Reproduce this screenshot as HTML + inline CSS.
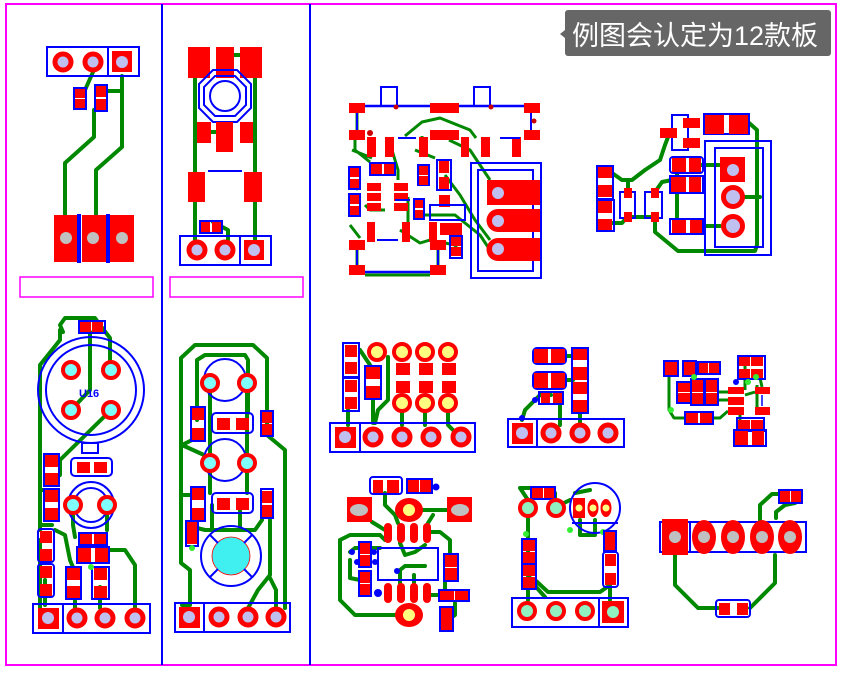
<!DOCTYPE html>
<html><head><meta charset="utf-8"><style>
html,body{margin:0;padding:0;background:#fff;}
svg{display:block}
.r{fill:#f00}
.b{fill:none;stroke:#00f;stroke-width:2}
.g{fill:none;stroke:#080;stroke-width:4;stroke-linejoin:round;stroke-linecap:round}
.g3{fill:none;stroke:#080;stroke-width:3;stroke-linejoin:round}
.ring{fill:#c0c0f0;stroke:#f00;stroke-width:5}
.cy{fill:#80ffff;stroke:#f00;stroke-width:4}
.ye{fill:#ffff80;stroke:#f00;stroke-width:4}
.gr{fill:#90f0c0;stroke:#f00;stroke-width:4}
.lv{fill:#c0c0f0}
.gy{fill:#c0c0c0}
</style></head><body>
<svg width="842" height="673" viewBox="0 0 842 673" xmlns="http://www.w3.org/2000/svg">
<rect x="6" y="4" width="830" height="661" fill="none" stroke="#f0f" stroke-width="2"/>
<line x1="162" y1="4" x2="162" y2="665" stroke="#00f" stroke-width="2"/>
<line x1="310" y1="4" x2="310" y2="665" stroke="#00f" stroke-width="2"/>
<rect x="20" y="277" width="133" height="20" fill="none" stroke="#f0f" stroke-width="1.5"/>
<rect x="170" y="277" width="133" height="20" fill="none" stroke="#f0f" stroke-width="1.5"/>

<!-- label -->
<rect x="565" y="10" width="266" height="46" rx="3" fill="#666"/>
<polygon points="565,30 560,34 565,38" fill="#666"/>
<text x="572" y="45" font-family="Liberation Sans, Noto Sans CJK SC, sans-serif" font-size="27" fill="#fff">例图会认定为12款板</text>

<!-- Board 1 top-left -->
<path class="g" d="M93,72 L85,90 M94,110 L94,137 L65,163 L65,215 M122,76 L122,147 L96,170 L96,215 M106,91 L122,91"/>
<rect class="b" x="47" y="47" width="92" height="29"/><line x1="108" y1="47" x2="108" y2="76" stroke="#00f" stroke-width="2"/>
<circle class="ring" cx="63" cy="62" r="8"/><circle class="ring" cx="93" cy="62" r="8"/>
<rect class="r" x="112" y="51" width="20" height="21"/><circle class="lv" cx="122" cy="62" r="6"/>
<rect class="b" x="74" y="88" width="12" height="21"/><rect class="r" x="75" y="89" width="10" height="9"/><rect class="r" x="75" y="99" width="10" height="9"/>
<rect class="b" x="95" y="85" width="12" height="26"/><rect class="r" x="96" y="86" width="10" height="11"/><rect class="r" x="96" y="99" width="10" height="11"/>
<rect class="r" x="54" y="215" width="25" height="47"/><rect class="r" x="82" y="215" width="24" height="47"/><rect class="r" x="110" y="215" width="24" height="47"/>
<circle class="gy" cx="66" cy="238" r="6"/><circle class="gy" cx="93" cy="238" r="6"/><circle class="gy" cx="122" cy="238" r="6"/>
<line x1="79" y1="214" x2="79" y2="263" stroke="#00f" stroke-width="4"/><line x1="108" y1="214" x2="108" y2="263" stroke="#00f" stroke-width="4"/>

<!-- Board 2 top-mid -->
<path class="g" d="M195,78 L195,240 M255,78 L255,240 M211,132 L216,132 M213,222 L228,230 L228,240 M227,55 L240,55"/>
<rect class="r" x="188" y="47" width="22" height="31"/><rect class="r" x="216" y="47" width="18" height="31"/><rect class="r" x="240" y="47" width="22" height="31"/>
<polygon class="b" points="213,70 237,70 251,84 251,108 237,122 213,122 199,108 199,84"/>
<polygon class="b" points="215,76 235,76 246,87 246,105 235,116 215,116 204,105 204,87"/>
<circle class="b" cx="225" cy="96" r="15"/>
<rect class="r" x="197" y="122" width="14" height="21"/><rect class="r" x="216" y="122" width="17" height="30"/><rect class="r" x="240" y="122" width="13" height="21"/>
<rect class="r" x="188" y="172" width="17" height="30"/><rect class="r" x="244" y="172" width="18" height="30"/>
<line x1="208" y1="171" x2="242" y2="171" stroke="#00f" stroke-width="2"/>
<rect class="b" x="200" y="221" width="22" height="12"/><rect class="r" x="201" y="222" width="9" height="10"/><rect class="r" x="212" y="222" width="9" height="10"/>
<rect class="b" x="180" y="236" width="91" height="29"/><line x1="240" y1="236" x2="240" y2="265" stroke="#00f" stroke-width="2"/>
<circle class="ring" cx="197" cy="250" r="8"/><circle class="ring" cx="225" cy="250" r="8"/>
<rect class="r" x="244" y="240" width="20" height="20"/><circle class="lv" cx="254" cy="250" r="6"/>

<!-- Board 3 big top -->
<path class="g3" d="M357,113 L357,130 M355,140 L355,150 L370,162 M372,158 L352,150 M358,190 L355,185 M392,150 L398,170 L398,180 M405,136 L422,122 L440,118 L470,130 L476,138 M365,275 L430,275 M357,250 L357,265 M438,250 L438,265 M422,136 L422,145 M415,150 L435,158 M449,140 L470,150 L490,180 M445,175 L460,195 L475,220 L490,240 M420,215 L455,215 L480,235 L490,250 M365,205 L370,210 L385,210 M408,197 L408,232 M400,230 L420,243 L430,240 M350,225 L360,238 M430,240 L455,245 L460,255"/>
<rect class="b" x="381" y="87" width="16" height="19"/><rect class="b" x="474" y="87" width="16" height="19"/>
<line x1="363" y1="106" x2="526" y2="106" stroke="#00f" stroke-width="2.5"/>
<line x1="357" y1="113" x2="357" y2="130" stroke="#00f" stroke-width="2"/><line x1="531" y1="113" x2="531" y2="130" stroke="#00f" stroke-width="2"/>
<rect class="r" x="349" y="103" width="16" height="10"/><rect class="r" x="430" y="103" width="29" height="10"/><rect class="r" x="524" y="103" width="16" height="10"/>
<rect class="r" x="349" y="130" width="16" height="10"/><rect class="r" x="430" y="130" width="29" height="10"/><rect class="r" x="524" y="130" width="16" height="10"/>
<circle cx="396" cy="107" r="2.5" fill="#c00"/><circle cx="491" cy="107" r="2.5" fill="#c00"/><circle cx="534" cy="121" r="2.5" fill="#c00"/><circle cx="370" cy="133" r="3" fill="#c00"/>
<rect class="r" x="367" y="137" width="9" height="20"/><rect class="r" x="385" y="137" width="9" height="20"/><rect class="r" x="419" y="137" width="9" height="20"/><rect class="r" x="461" y="137" width="8" height="20"/><rect class="r" x="481" y="137" width="9" height="20"/><rect class="r" x="512" y="137" width="9" height="20"/>
<path d="M398,138 L416,138 M400,138 L410,138 M500,138 L520,138" stroke="#00f" stroke-width="2"/>
<rect class="b" x="349" y="167" width="11" height="22"/><rect class="r" x="350" y="168" width="9" height="9"/><rect class="r" x="350" y="179" width="9" height="9"/>
<rect class="b" x="349" y="194" width="11" height="22"/><rect class="r" x="350" y="195" width="9" height="9"/><rect class="r" x="350" y="206" width="9" height="9"/>
<rect class="b" x="370" y="163" width="25" height="12"/><rect class="r" x="371" y="164" width="11" height="10"/><rect class="r" x="384" y="164" width="10" height="10"/>
<rect class="r" x="367" y="183" width="14" height="8"/><rect class="r" x="367" y="193" width="14" height="8"/><rect class="r" x="367" y="203" width="14" height="8"/>
<rect class="r" x="394" y="183" width="14" height="8"/><rect class="r" x="394" y="193" width="14" height="8"/><rect class="r" x="394" y="203" width="14" height="8"/>
<rect class="b" x="418" y="165" width="11" height="20"/><rect class="r" x="419" y="166" width="9" height="9"/><rect class="r" x="419" y="176" width="9" height="9"/>
<rect class="b" x="437" y="160" width="14" height="30"/><rect class="r" x="439" y="161" width="10" height="12"/><rect class="r" x="439" y="177" width="10" height="12"/>
<rect class="r" x="439" y="195" width="11" height="12"/>
<rect class="b" x="414" y="199" width="10" height="20"/><rect class="r" x="415" y="200" width="8" height="8"/><rect class="r" x="415" y="210" width="8" height="8"/>
<rect class="b" x="430" y="205" width="35" height="15"/>
<rect class="r" x="367" y="222" width="8" height="20"/><rect class="r" x="402" y="222" width="8" height="20"/><rect class="r" x="429" y="222" width="8" height="20"/>
<rect class="r" x="440" y="223" width="12" height="12"/><rect class="r" x="452" y="223" width="10" height="12"/>
<rect class="b" x="450" y="236" width="12" height="22"/><rect class="r" x="451" y="237" width="10" height="9"/><rect class="r" x="451" y="247" width="10" height="9"/>
<path d="M377,240 L398,240 M410,200 L395,200" stroke="#00f" stroke-width="2"/>
<rect class="r" x="349" y="240" width="16" height="10"/><rect class="r" x="430" y="240" width="16" height="10"/>
<rect class="r" x="349" y="265" width="16" height="10"/><rect class="r" x="430" y="265" width="16" height="10"/>
<line x1="365" y1="272" x2="430" y2="272" stroke="#00f" stroke-width="2.5"/>
<line x1="357" y1="250" x2="357" y2="265" stroke="#00f" stroke-width="2"/><line x1="438" y1="250" x2="438" y2="265" stroke="#00f" stroke-width="2"/>
<rect class="b" x="471" y="163" width="70" height="115"/><rect class="b" x="478" y="170" width="55" height="101"/>
<path d="M487,180 L540,180 L540,205 L487,205 Z" class="r"/>
<path d="M498,209 L540,209 L540,232 L498,232 A11.5,11.5 0 0 1 498,209 Z" class="r"/>
<path d="M498,238 L540,238 L540,261 L498,261 A11.5,11.5 0 0 1 498,238 Z" class="r"/>
<circle class="lv" cx="498" cy="193" r="6"/><circle class="lv" cx="498" cy="221" r="6"/><circle class="lv" cx="498" cy="249" r="6"/>

<!-- Board 4 top-right -->
<path class="g" d="M612,173 L622,180 L632,180 L645,170 L660,160 L665,145 L670,132 M628,180 L628,192 M612,223 L622,223 L628,216 M632,217 L656,217 M655,192 L662,182 L672,180 M677,172 L677,230 M655,222 L655,232 L678,251 L755,251 L757,245 L757,130 L748,122 M700,165 L720,165 M700,226 L720,226 M745,197 L760,197"/>
<rect class="b" x="672" y="115" width="16" height="35"/>
<rect class="r" x="683" y="118" width="17" height="10"/><rect class="r" x="660" y="128" width="17" height="10"/><rect class="r" x="683" y="138" width="17" height="10"/>
<rect class="b" x="704" y="114" width="45" height="20"/><rect class="r" x="705" y="115" width="19" height="19"/><rect class="r" x="729" y="115" width="19" height="19"/>
<rect class="b" x="705" y="141" width="66" height="114"/><rect class="b" x="715" y="148" width="48" height="99"/>
<rect class="r" x="720" y="157" width="25" height="25"/><circle class="lv" cx="733" cy="170" r="6"/>
<circle class="ring" cx="733" cy="197" r="9.5"/><circle class="ring" cx="733" cy="226" r="9.5"/>
<rect class="b" x="670" y="157" width="33" height="16" rx="3"/><rect class="r" x="672" y="158" width="14" height="14"/><rect class="r" x="689" y="158" width="12" height="14"/>
<rect class="r" x="671" y="177" width="15" height="15"/><rect class="r" x="689" y="177" width="12" height="15"/>
<rect class="b" x="670" y="176" width="33" height="17"/>
<rect class="b" x="670" y="219" width="33" height="15"/><rect class="r" x="672" y="220" width="14" height="13"/><rect class="r" x="690" y="220" width="12" height="13"/>
<rect class="b" x="597" y="166" width="16" height="33"/><rect class="r" x="598" y="167" width="14" height="11"/><rect class="r" x="598" y="185" width="14" height="12"/>
<rect class="b" x="597" y="200" width="17" height="31"/><rect class="r" x="598" y="201" width="14" height="12"/><rect class="r" x="598" y="219" width="14" height="11"/>
<rect class="b" x="620" y="192" width="15" height="26"/><rect class="r" x="624" y="188" width="8" height="10"/><rect class="r" x="624" y="212" width="8" height="10"/>
<rect class="b" x="645" y="192" width="17" height="26"/><rect class="r" x="651" y="188" width="8" height="10"/><rect class="r" x="651" y="212" width="8" height="10"/>

<!-- Bottom-left U16 board -->
<path class="g" d="M63,332 L60,325 L65,318 L95,318 L100,325 L110,338 L110,362 M90,332 L90,390 L71,410 M111,410 L60,460 L60,475 L52,480 M60,330 L60,340 L40,365 L40,530 M40,540 L40,608 M40,525 L52,525 M40,490 L52,490 M55,530 L65,535 L70,560 L75,572 M73,505 L73,525 L75,537 M107,505 L107,530 M100,555 L110,550 L125,550 L135,565 L135,610 M100,545 L100,555 M100,587 L100,608 M75,597 L75,608 M45,580 L45,605"/>
<circle class="b" cx="91" cy="390" r="53"/><circle class="b" cx="91" cy="390" r="45"/>
<circle class="cy" cx="71" cy="370" r="8"/><circle class="cy" cx="111" cy="370" r="8"/><circle class="cy" cx="71" cy="410" r="8"/><circle class="cy" cx="111" cy="410" r="8"/>
<text x="79" y="397" font-family="Liberation Sans, sans-serif" font-size="11" font-weight="bold" fill="#00f">U16</text>
<rect class="b" x="79" y="321" width="26" height="12"/><rect class="r" x="80" y="322" width="11" height="10"/><rect class="r" x="92" y="322" width="11" height="10"/>
<rect class="b" x="82" y="443" width="16" height="10"/>
<rect class="b" x="71" y="458" width="41" height="18" rx="4"/><rect class="r" x="77" y="462" width="13" height="11"/><rect class="r" x="94" y="462" width="13" height="11"/>
<circle class="b" cx="91" cy="505" r="23"/><circle class="b" cx="91" cy="505" r="17"/>
<circle class="cy" cx="73" cy="505" r="8"/><circle class="cy" cx="107" cy="505" r="8"/>
<rect class="b" x="44" y="454" width="15" height="32"/><rect class="r" x="45" y="455" width="13" height="12"/><rect class="r" x="45" y="473" width="13" height="12"/>
<rect class="b" x="44" y="489" width="15" height="32"/><rect class="r" x="45" y="490" width="13" height="12"/><rect class="r" x="45" y="508" width="13" height="12"/>
<rect class="b" x="38" y="529" width="16" height="33" rx="3"/><rect class="r" x="40" y="531" width="12" height="12"/><rect class="r" x="40" y="549" width="12" height="12"/>
<rect class="b" x="38" y="564" width="16" height="33" rx="3"/><rect class="r" x="40" y="566" width="12" height="12"/><rect class="r" x="40" y="584" width="12" height="12"/>
<rect class="b" x="79" y="533" width="28" height="12"/><rect class="r" x="80" y="534" width="12" height="10"/><rect class="r" x="94" y="534" width="12" height="10"/>
<rect class="b" x="77" y="547" width="32" height="16"/><rect class="r" x="78" y="548" width="13" height="14"/><rect class="r" x="95" y="548" width="13" height="14"/>
<rect class="b" x="66" y="567" width="15" height="32"/><rect class="r" x="67" y="568" width="13" height="12"/><rect class="r" x="67" y="586" width="13" height="12"/>
<rect class="b" x="92" y="567" width="17" height="32"/><rect class="r" x="94" y="568" width="13" height="12"/><rect class="r" x="94" y="586" width="13" height="12"/>
<circle cx="91" cy="567" r="3" fill="#3e3"/>
<rect class="b" x="33" y="604" width="117" height="29"/><line x1="63" y1="604" x2="63" y2="633" stroke="#00f" stroke-width="2"/>
<rect class="r" x="38" y="608" width="21" height="21"/><circle class="lv" cx="48" cy="618" r="6"/>
<circle class="ring" cx="77" cy="618" r="8"/><circle class="ring" cx="105" cy="618" r="8"/><circle class="ring" cx="135" cy="618" r="8"/>

<!-- Bottom-mid col2 -->
<path class="g" d="M182,605 L190,605 L190,570 L181,563 L181,358 L195,345 L253,345 L267,358 L267,412 L267,435 L285,450 L285,608 M182,445 L192,440 M197,420 L197,360 L205,355 L245,355 L248,360 L248,413 M210,383 L210,493 M247,383 L247,493 M182,495 L192,495 M197,520 L197,528 L205,530 L255,530 L262,520 M204,455 L182,445 M276,610 L276,590 L270,578 M247,610 L258,590 L270,575 L270,520 M212,528 L212,505 M240,528 L240,505"/>
<circle class="b" cx="225" cy="380" r="21"/><circle class="cy" cx="210" cy="383" r="8"/><circle class="cy" cx="247" cy="383" r="8"/>
<rect class="b" x="212" y="413" width="41" height="20" rx="4"/><rect class="r" x="217" y="418" width="13" height="12"/><rect class="r" x="236" y="418" width="13" height="12"/>
<circle class="b" cx="225" cy="460" r="21"/><circle class="cy" cx="210" cy="463" r="8"/><circle class="cy" cx="247" cy="463" r="8"/>
<rect class="b" x="212" y="493" width="41" height="20" rx="4"/><rect class="r" x="217" y="498" width="13" height="12"/><rect class="r" x="236" y="498" width="13" height="12"/>
<rect class="b" x="191" y="407" width="14" height="34"/><rect class="r" x="192" y="408" width="12" height="12"/><rect class="r" x="192" y="428" width="12" height="12"/>
<rect class="b" x="191" y="487" width="14" height="34"/><rect class="r" x="192" y="488" width="12" height="12"/><rect class="r" x="192" y="508" width="12" height="12"/>
<rect class="b" x="186" y="521" width="12" height="25"/><rect class="r" x="187" y="522" width="10" height="22"/><circle cx="192" cy="548" r="3" fill="#3e3"/>
<rect class="b" x="261" y="411" width="12" height="25"/><rect class="r" x="262" y="412" width="10" height="11"/><rect class="r" x="262" y="424" width="10" height="11"/>
<rect class="b" x="261" y="489" width="12" height="29"/><rect class="r" x="262" y="491" width="10" height="12"/><rect class="r" x="262" y="505" width="10" height="12"/>
<circle class="b" cx="231" cy="556" r="30"/><circle cx="231" cy="556" r="19" fill="#40f0f0" stroke="#f00" stroke-width="0.8"/>
<path d="M210,535 L218,543 M252,535 L244,543 M210,577 L218,569 M252,577 L244,569" stroke="#00f" stroke-width="2"/>
<rect class="b" x="175" y="603" width="115" height="29"/><line x1="204" y1="603" x2="204" y2="632" stroke="#00f" stroke-width="2"/>
<rect class="r" x="179" y="607" width="21" height="21"/><circle class="lv" cx="189" cy="617" r="6"/>
<circle class="ring" cx="219" cy="617" r="8"/><circle class="ring" cx="248" cy="617" r="8"/><circle class="ring" cx="276" cy="617" r="8"/>

<!-- Board A -->
<path class="g" d="M348,410 L348,425 M360,350 L372,368 M373,398 L373,423 M388,357 L388,400 L378,410 L375,423 M402,413 L402,425 M425,413 L425,425 M448,413 L448,425 L455,432"/>
<rect class="b" x="343" y="343" width="16" height="34"/><rect class="r" x="345" y="345" width="12" height="12"/><rect class="r" x="345" y="362" width="12" height="12"/>
<rect class="b" x="343" y="378" width="16" height="33"/><rect class="r" x="345" y="380" width="12" height="12"/><rect class="r" x="345" y="397" width="12" height="12"/>
<rect class="b" x="365" y="366" width="16" height="33"/><rect class="r" x="366" y="367" width="14" height="12"/><rect class="r" x="366" y="386" width="14" height="12"/>
<circle class="ye" cx="377" cy="352" r="8"/><circle class="ye" cx="402" cy="352" r="8"/><circle class="ye" cx="425" cy="352" r="8"/><circle class="ye" cx="448" cy="352" r="8"/>
<circle class="ye" cx="402" cy="403" r="8"/><circle class="ye" cx="425" cy="403" r="8"/><circle class="ye" cx="448" cy="403" r="8"/>
<rect class="r" x="396" y="363" width="14" height="12"/><rect class="r" x="419" y="363" width="14" height="12"/><rect class="r" x="442" y="363" width="14" height="12"/>
<rect class="r" x="396" y="381" width="14" height="12"/><rect class="r" x="419" y="381" width="14" height="12"/><rect class="r" x="442" y="381" width="14" height="12"/>
<rect class="b" x="330" y="423" width="145" height="29"/><line x1="360" y1="423" x2="360" y2="452" stroke="#00f" stroke-width="2"/>
<rect class="r" x="335" y="427" width="21" height="21"/><circle class="lv" cx="345" cy="437" r="6"/>
<circle class="ring" cx="373" cy="437" r="8"/><circle class="ring" cx="402" cy="437" r="8"/><circle class="ring" cx="431" cy="437" r="8"/><circle class="ring" cx="461" cy="437" r="8"/>

<!-- Board B -->
<path class="g" d="M551,395 L540,395 L525,410 L522,420 M560,400 L560,425 M580,412 L580,425 M565,380 L573,380 M565,356 L573,356"/>
<rect class="b" x="533" y="348" width="33" height="16" rx="4"/><rect class="r" x="534" y="349" width="14" height="14"/><rect class="r" x="551" y="349" width="14" height="14"/>
<rect class="b" x="533" y="372" width="33" height="17" rx="4"/><rect class="r" x="534" y="373" width="14" height="15"/><rect class="r" x="551" y="373" width="14" height="15"/>
<rect class="b" x="572" y="348" width="16" height="65"/>
<rect class="r" x="573" y="349" width="14" height="11"/><rect class="r" x="573" y="367" width="14" height="13"/><rect class="r" x="573" y="382" width="14" height="12"/><rect class="r" x="573" y="400" width="14" height="12"/>
<rect class="b" x="539" y="392" width="24" height="12"/><rect class="r" x="541" y="393" width="9" height="10"/><rect class="r" x="553" y="393" width="9" height="10"/>
<circle cx="535" cy="400" r="3" fill="#00f"/><circle cx="522" cy="418" r="3" fill="#00f"/>
<rect class="b" x="508" y="419" width="116" height="28"/><line x1="537" y1="419" x2="537" y2="447" stroke="#00f" stroke-width="2"/>
<rect class="r" x="512" y="423" width="21" height="21"/><circle class="lv" cx="522" cy="433" r="6"/>
<circle class="ring" cx="551" cy="433" r="8"/><circle class="ring" cx="580" cy="433" r="8"/><circle class="ring" cx="608" cy="433" r="8"/>

<!-- Board C -->
<path class="g3" d="M669,375 L669,410 L674,418 L686,418 M712,418 L720,418 L728,411 M717,392 L728,392 M717,400 L728,400 M745,365 L745,375 L745,390 M755,392 L745,395 M757,385 L757,410 M760,378 L762,387 M740,415 L740,425"/>
<rect class="b" x="664" y="361" width="14" height="15"/><rect class="r" x="665" y="362" width="12" height="13"/>
<rect class="b" x="683" y="361" width="13" height="15"/><rect class="r" x="684" y="362" width="11" height="13"/>
<rect class="b" x="698" y="362" width="22" height="12"/><rect class="r" x="699" y="363" width="9" height="10"/><rect class="r" x="709" y="363" width="10" height="10"/>
<rect class="b" x="738" y="356" width="27" height="23"/><rect class="r" x="739" y="357" width="11" height="9"/><rect class="r" x="751" y="357" width="12" height="9"/><rect class="r" x="739" y="369" width="11" height="9"/><rect class="r" x="751" y="369" width="12" height="9"/>
<rect class="b" x="677" y="382" width="14" height="21"/><rect class="r" x="678" y="383" width="12" height="9"/><rect class="r" x="678" y="393" width="12" height="9"/>
<rect class="b" x="691" y="379" width="13" height="26"/><rect class="r" x="692" y="380" width="11" height="12"/><rect class="r" x="692" y="393" width="11" height="11"/>
<rect class="b" x="705" y="379" width="13" height="26"/><rect class="r" x="706" y="380" width="11" height="12"/><rect class="r" x="706" y="393" width="11" height="11"/>
<rect class="r" x="728" y="387" width="16" height="7"/><rect class="r" x="728" y="397" width="16" height="8"/><rect class="r" x="728" y="407" width="16" height="8"/>
<rect class="r" x="755" y="387" width="15" height="7"/><rect class="r" x="755" y="407" width="15" height="8"/>
<line x1="762" y1="395" x2="762" y2="406" stroke="#00f" stroke-width="1.5"/>
<rect class="b" x="685" y="412" width="28" height="12"/><rect class="r" x="686" y="413" width="12" height="10"/><rect class="r" x="700" y="413" width="12" height="10"/>
<rect class="b" x="737" y="418" width="27" height="13"/><rect class="r" x="738" y="420" width="12" height="10"/><rect class="r" x="751" y="420" width="12" height="10"/>
<rect class="b" x="734" y="430" width="32" height="16"/><rect class="r" x="735" y="431" width="13" height="14"/><rect class="r" x="752" y="431" width="12" height="14"/>
<circle cx="671" cy="410" r="3" fill="#3e3"/><circle cx="694" cy="377" r="3" fill="#3e3"/><circle cx="748" cy="382" r="3" fill="#3e3"/><circle cx="756" cy="377" r="3" fill="#3e3"/><circle cx="736" cy="382" r="3" fill="#00f"/>

<!-- Board D -->
<path class="g" d="M385,493 L385,505 L395,515 L398,523 M372,522 L385,530 M420,510 L448,510 M428,523 L433,515 M340,540 L350,535 L380,535 L385,540 M340,540 L340,600 L355,615 L398,615 M350,552 L355,548 L380,548 M350,560 L350,578 L360,580 M427,585 L427,595 L440,595 M445,580 L445,595 M450,555 L450,540 L440,532 L428,532 M455,603 L455,615 L448,620 M400,543 L405,555 L415,552 L425,545 M400,583 L400,570 L405,566 L425,566 M414,583 L414,575"/>
<rect class="b" x="370" y="477" width="32" height="17" rx="3"/><rect class="r" x="373" y="480" width="10" height="13"/><rect class="r" x="387" y="480" width="12" height="13"/>
<rect class="b" x="407" y="479" width="25" height="14"/><rect class="r" x="408" y="480" width="11" height="12"/><rect class="r" x="420" y="480" width="11" height="12"/>
<circle cx="436" cy="487" r="3.5" fill="#00f"/>
<rect class="r" x="347" y="497" width="25" height="25"/><ellipse class="gy" cx="359" cy="510" rx="9" ry="6"/>
<rect class="r" x="447" y="497" width="25" height="25"/><ellipse class="gy" cx="460" cy="510" rx="9" ry="6"/>
<ellipse class="r" cx="409" cy="510" rx="14" ry="12"/><circle cx="409" cy="510" r="6" fill="#ffff80"/>
<ellipse class="r" cx="409" cy="627" rx="14" ry="12" transform="translate(0,-12)"/><circle cx="409" cy="615" r="6" fill="#ffff80"/>
<rect class="r" x="384" y="523" width="8" height="20" rx="4"/><rect class="r" x="397" y="523" width="8" height="20" rx="4"/><rect class="r" x="410" y="523" width="8" height="20" rx="4"/><rect class="r" x="423" y="523" width="8" height="20" rx="4"/>
<rect class="r" x="384" y="583" width="8" height="20" rx="4"/><rect class="r" x="397" y="583" width="8" height="20" rx="4"/><rect class="r" x="410" y="583" width="8" height="20" rx="4"/><rect class="r" x="423" y="583" width="8" height="20" rx="4"/>
<rect class="b" x="378" y="548" width="60" height="32"/>
<rect class="b" x="359" y="542" width="12" height="25"/><rect class="r" x="360" y="543" width="10" height="11"/><rect class="r" x="360" y="555" width="10" height="11"/>
<rect class="b" x="359" y="571" width="12" height="25"/><rect class="r" x="360" y="572" width="10" height="11"/><rect class="r" x="360" y="584" width="10" height="11"/>
<circle cx="352" cy="552" r="3" fill="#00f"/><circle cx="357" cy="562" r="3" fill="#00f"/><circle cx="374" cy="552" r="3" fill="#00f"/><circle cx="375" cy="562" r="3" fill="#00f"/><circle cx="397" cy="571" r="3" fill="#00f"/><circle cx="378" cy="593" r="4" fill="#00f"/>
<rect class="b" x="444" y="554" width="14" height="27"/><rect class="r" x="445" y="555" width="12" height="12"/><rect class="r" x="445" y="568" width="12" height="12"/>
<rect class="b" x="439" y="590" width="30" height="11"/><rect class="r" x="440" y="591" width="14" height="9"/><rect class="r" x="455" y="591" width="13" height="9"/>
<rect class="b" x="440" y="607" width="13" height="24"/><rect class="r" x="441" y="608" width="11" height="11"/><rect class="r" x="441" y="619" width="11" height="11"/>

<!-- Board E -->
<path class="g" d="M528,508 L528,600 M556,508 L555,500 L555,493 M532,488 L520,488 L528,500 M580,520 L580,535 L595,535 L595,520 M560,505 L570,500 M528,575 L537,588 L545,597 M535,580 L548,592 L600,592 L610,585 M610,586 L610,600 M575,493 L590,490"/>
<rect class="b" x="531" y="487" width="24" height="12"/><rect class="r" x="532" y="488" width="11" height="10"/><rect class="r" x="544" y="488" width="10" height="10"/>
<circle class="gr" cx="528" cy="508" r="8"/><circle class="gr" cx="556" cy="508" r="8"/>
<circle class="b" cx="595" cy="508" r="25"/>
<line x1="572" y1="523" x2="618" y2="523" stroke="#00f" stroke-width="2"/>
<rect class="r" x="573" y="498" width="12" height="20"/><circle cx="579" cy="508" r="3.5" fill="#ffff80"/>
<ellipse class="r" cx="593" cy="508" rx="5.5" ry="9"/><circle cx="593" cy="508" r="3.5" fill="#ffff80"/>
<ellipse class="r" cx="606" cy="508" rx="5.5" ry="9"/><circle cx="606" cy="508" r="3.5" fill="#ffff80"/>
<circle cx="526" cy="534" r="3" fill="#3e3"/><circle cx="570" cy="530" r="3" fill="#3e3"/><circle cx="603" cy="532" r="3" fill="#3e3"/>
<rect class="b" x="522" y="539" width="14" height="25"/><rect class="r" x="523" y="540" width="12" height="11"/><rect class="r" x="523" y="552" width="12" height="11"/>
<rect class="b" x="522" y="564" width="14" height="25"/><rect class="r" x="523" y="565" width="12" height="11"/><rect class="r" x="523" y="577" width="12" height="11"/>
<rect class="b" x="604" y="531" width="12" height="20"/><rect class="r" x="605" y="532" width="10" height="9"/><rect class="r" x="605" y="541" width="10" height="9"/>
<rect class="b" x="603" y="552" width="15" height="35" rx="3"/><rect class="r" x="605" y="554" width="11" height="12"/><rect class="r" x="605" y="573" width="11" height="12"/>
<rect class="b" x="512" y="598" width="116" height="29"/><line x1="599" y1="598" x2="599" y2="627" stroke="#00f" stroke-width="2"/>
<circle class="gr" cx="527" cy="611" r="8"/><circle class="gr" cx="556" cy="611" r="8"/><circle class="gr" cx="585" cy="611" r="8"/>
<rect class="r" x="602" y="601" width="22" height="22"/><circle cx="613" cy="612" r="6" fill="#90f0c0"/>

<!-- Board F -->
<path class="g" d="M675,555 L675,585 L698,608 L718,608 M775,555 L775,583 L750,608 M760,522 L760,505 L772,494 L780,494 M776,518 L776,512 L785,505 L795,503"/>
<rect class="b" x="660" y="522" width="146" height="30"/><line x1="690" y1="522" x2="690" y2="552" stroke="#00f" stroke-width="2"/>
<rect class="r" x="662" y="519" width="26" height="36"/><circle class="gy" cx="675" cy="537" r="6"/>
<ellipse class="r" cx="704" cy="537" rx="12" ry="17"/><circle class="gy" cx="704" cy="537" r="6"/>
<ellipse class="r" cx="733" cy="537" rx="12" ry="17"/><circle class="gy" cx="733" cy="537" r="6"/>
<ellipse class="r" cx="762" cy="537" rx="12" ry="17"/><circle class="gy" cx="762" cy="537" r="6"/>
<ellipse class="r" cx="790" cy="537" rx="12" ry="17"/><circle class="gy" cx="790" cy="537" r="6"/>
<rect class="b" x="779" y="490" width="23" height="13"/><rect class="r" x="780" y="491" width="10" height="11"/><rect class="r" x="791" y="491" width="10" height="11"/>
<rect class="b" x="716" y="600" width="34" height="17" rx="3"/><rect class="r" x="719" y="603" width="11" height="12"/><rect class="r" x="737" y="603" width="11" height="12"/>
</svg>
</body></html>
